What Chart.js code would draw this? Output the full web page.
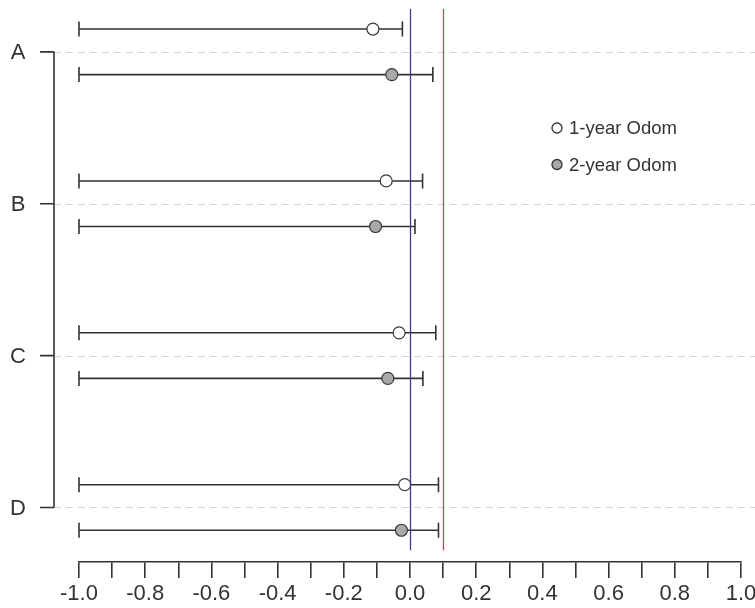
<!DOCTYPE html>
<html>
<head>
<meta charset="utf-8">
<script src="https://cdn.jsdelivr.net/npm/chart.js@4.4.1/dist/chart.umd.min.js"></script>
<style>
  body { margin: 0; background: #fff; }
  #wrap { width: 755px; height: 608px; }
</style>
</head>
<body>
<div id="wrap"><canvas id="odomChart" width="755" height="608"></canvas></div>
<script>
// categories top to bottom
const categories = ['A', 'B', 'C', 'D'];
const legendLabels = ['1-year Odom', '2-year Odom'];

// estimates and interval ends
const oneYearEst  = [-0.112, -0.072, -0.033, -0.016];
const oneYearLow  = [-1.0, -1.0, -1.0, -1.0];
const oneYearHigh = [-0.023, 0.038, 0.078, 0.086];

const twoYearEst  = [-0.055, -0.104, -0.067, -0.026];
const twoYearLow  = [-1.0, -1.0, -1.0, -1.0];
const twoYearHigh = [0.069, 0.015, 0.039, 0.086];

// x axis labels (every other 0.1 tick)
const tickLabels = ['-1.0', '-0.8', '-0.6', '-0.4', '-0.2', '0.0', '0.2', '0.4', '0.6', '0.8', '1.0'];

// vertical reference lines
const refLines = [0, 0.1];
const refColors = ['#3d3d96', '#d4424f'];

const FONT = "'Liberation Sans', Arial, sans-serif";
const INK = '#333333';
const OFFSET = 0.15; // vertical offset of the two series around the category line

// category i sits at y = n - i (A at the top)
const rowY = i => categories.length - i;

function toPoints(est, sign) {
  return est.map((v, i) => ({ x: v, y: rowY(i) + sign * OFFSET }));
}

const forestPlugin = {
  id: 'forest',
  beforeDatasetsDraw(chart) {
    const { ctx, chartArea, scales: { x, y } } = chart;
    const bracketX = chartArea.left - 25;

    ctx.save();
    // dashed category lines
    ctx.strokeStyle = '#d2d2d2';
    ctx.lineWidth = 1;
    ctx.setLineDash([7, 5]);
    categories.forEach((c, i) => {
      const py = Math.round(y.getPixelForValue(rowY(i))) + 0.5;
      ctx.beginPath();
      ctx.moveTo(bracketX, py);
      ctx.lineTo(chart.width, py);
      ctx.stroke();
    });
    ctx.setLineDash([]);

    // error bars
    ctx.strokeStyle = INK;
    ctx.lineWidth = 1.6;
    const series = [
      [oneYearLow, oneYearHigh, 1],
      [twoYearLow, twoYearHigh, -1]
    ];
    series.forEach(([lo, hi, sign]) => {
      lo.forEach((l, i) => {
        const py = y.getPixelForValue(rowY(i) + sign * OFFSET);
        const x1 = x.getPixelForValue(l);
        const x2 = x.getPixelForValue(hi[i]);
        ctx.beginPath();
        ctx.moveTo(x1, py); ctx.lineTo(x2, py);
        ctx.moveTo(x1, py - 7.5); ctx.lineTo(x1, py + 7.5);
        ctx.moveTo(x2, py - 7.5); ctx.lineTo(x2, py + 7.5);
        ctx.stroke();
      });
    });

    // left bracket axis with category labels
    const yTop = y.getPixelForValue(rowY(0));
    const yBot = y.getPixelForValue(rowY(categories.length - 1));
    ctx.lineWidth = 1.6;
    ctx.beginPath();
    ctx.moveTo(bracketX, yTop);
    ctx.lineTo(bracketX, yBot);
    categories.forEach((c, i) => {
      const py = y.getPixelForValue(rowY(i));
      ctx.moveTo(bracketX - 14, py);
      ctx.lineTo(bracketX, py);
    });
    ctx.stroke();

    ctx.fillStyle = INK;
    ctx.font = '22px ' + FONT;
    ctx.textAlign = 'center';
    ctx.textBaseline = 'middle';
    categories.forEach((c, i) => {
      ctx.fillText(c, 18, y.getPixelForValue(rowY(i)) + 1);
    });
    ctx.restore();
  },
  afterDatasetsDraw(chart) {
    const { ctx, scales: { x, y } } = chart;
    ctx.save();
    // reference lines over the whole plot region
    const top = y.getPixelForValue(y.max);
    const bottom = y.getPixelForValue(0.718);
    refLines.forEach((v, i) => {
      const px = Math.round(x.getPixelForValue(v)) + 0.5;
      ctx.strokeStyle = refColors[i];
      ctx.lineWidth = 1.3;
      ctx.beginPath();
      ctx.moveTo(px, top);
      ctx.lineTo(px, bottom);
      ctx.stroke();
    });

    // legend
    const fills = ['#ffffff', '#a9a9a9'];
    ctx.font = '18.5px ' + FONT;
    ctx.textAlign = 'left';
    ctx.textBaseline = 'middle';
    legendLabels.forEach((lab, i) => {
      const ly = 128 + i * 36.5;
      ctx.beginPath();
      ctx.arc(557, ly, 5, 0, Math.PI * 2);
      ctx.fillStyle = fills[i];
      ctx.fill();
      ctx.strokeStyle = INK;
      ctx.lineWidth = 1.3;
      ctx.stroke();
      ctx.fillStyle = INK;
      ctx.fillText(lab, 569, ly + 1);
    });
    ctx.restore();
  }
};

new Chart(document.getElementById('odomChart'), {
  type: 'scatter',
  data: {
    datasets: [
      {
        label: legendLabels[0],
        data: toPoints(oneYearEst, 1),
        backgroundColor: '#ffffff',
        borderColor: '#3a3a3a',
        borderWidth: 1.2,
        pointRadius: 6
      },
      {
        label: legendLabels[1],
        data: toPoints(twoYearEst, -1),
        backgroundColor: '#a9a9a9',
        borderColor: '#3a3a3a',
        borderWidth: 1.2,
        pointRadius: 6
      }
    ]
  },
  options: {
    responsive: false,
    animation: false,
    layout: { padding: { left: 79, right: 14, top: 9, bottom: 0 } },
    plugins: {
      legend: { display: false },
      tooltip: { enabled: false }
    },
    scales: {
      x: {
        type: 'linear',
        min: -1,
        max: 1,
        afterFit(scale) {
          scale.height = 46;
          scale.paddingLeft = 0;
          scale.paddingRight = 0;
        },
        border: { display: true, color: INK, width: 1.6 },
        grid: {
          drawOnChartArea: false,
          drawTicks: true,
          tickLength: 16,
          color: INK,
          lineWidth: 1.6
        },
        ticks: {
          stepSize: 0.1,
          autoSkip: false,
          maxRotation: 0,
          padding: 3,
          color: INK,
          font: { family: FONT, size: 22 },
          callback(value, index) {
            return index % 2 === 0 ? tickLabels[index / 2] : '';
          }
        }
      },
      y: {
        type: 'linear',
        display: false,
        min: 0.641,
        max: 4.282
      }
    }
  },
  plugins: [forestPlugin]
});
</script>
</body>
</html>
